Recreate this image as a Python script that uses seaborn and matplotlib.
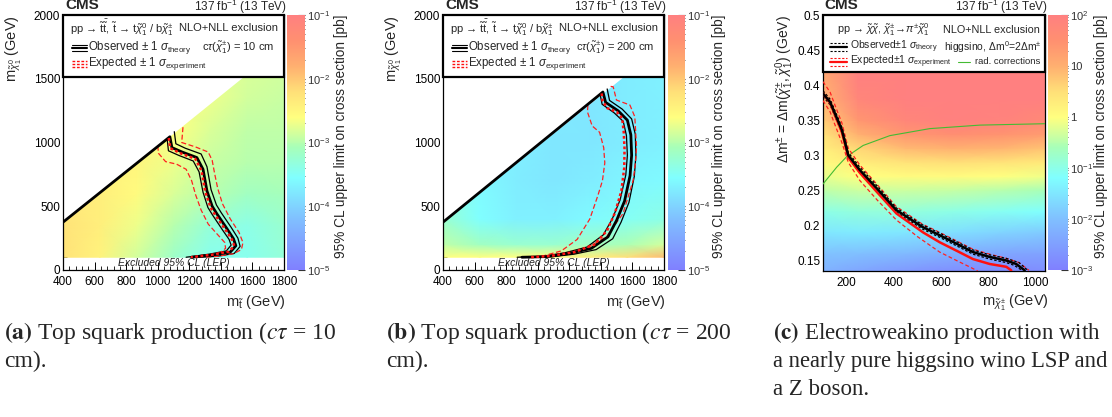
import numpy as np
import matplotlib
matplotlib.use("Agg")
import matplotlib.pyplot as plt
import seaborn as sns
from matplotlib.colors import LinearSegmentedColormap, LogNorm
from matplotlib.patches import Rectangle
from matplotlib.ticker import MultipleLocator, AutoMinorLocator, FuncFormatter


# Data: top squark, c tau = 10 cm

a_grid_x = [400, 633, 867, 1100, 1333, 1567, 1800]
a_grid_y = [100, 350, 600, 850, 1100, 1350, 1600]
a_log_xsec = [
    [-2.25, -2.45, -2.85, -3.20, -3.45, -3.45, -3.30],
    [-2.25, -2.40, -2.70, -3.00, -3.30, -3.40, -3.25],
    [-2.35, -2.40, -2.55, -2.80, -3.00, -3.15, -3.10],
    [-2.45, -2.45, -2.50, -2.70, -2.90, -3.00, -3.00],
    [-2.55, -2.50, -2.50, -2.60, -2.80, -2.95, -2.95],
    [-2.60, -2.55, -2.55, -2.55, -2.70, -2.85, -2.90],
    [-2.60, -2.60, -2.60, -2.60, -2.70, -2.80, -2.85],
]

a_obs_x = [400, 1077, 1090, 1155, 1248, 1287, 1312, 1345, 1375, 1438, 1480, 1495, 1460, 1350, 1215]
a_obs_y = [375, 1045, 960, 925, 882, 790, 620, 500, 440, 325, 245, 190, 141, 118, 100]
a_obs_up_x = [1105, 1115, 1175, 1275, 1312, 1338, 1372, 1402, 1465, 1508, 1522, 1485, 1380, 1260]
a_obs_up_y = [1085, 990, 955, 910, 810, 630, 510, 450, 335, 250, 185, 130, 108, 100]
a_obs_dn_x = [1060, 1068, 1135, 1225, 1262, 1287, 1318, 1348, 1410, 1452, 1465, 1435, 1330, 1180]
a_obs_dn_y = [1025, 935, 898, 855, 770, 610, 490, 430, 315, 240, 195, 150, 125, 100]
a_exp_x = [1070, 1080, 1145, 1238, 1277, 1302, 1335, 1365, 1428, 1470, 1485, 1452, 1345, 1210]
a_exp_y = [1035, 955, 915, 872, 780, 610, 490, 430, 318, 240, 190, 145, 120, 100]
a_exp_up_x = [1160, 1152, 1240, 1320, 1345, 1360, 1380, 1410, 1460, 1515, 1540, 1530, 1480, 1370, 1300]
a_exp_up_y = [1120, 1000, 965, 925, 860, 760, 640, 520, 400, 295, 215, 160, 128, 106, 100]
a_exp_dn_x = [1000, 1005, 1050, 1120, 1180, 1215, 1240, 1275, 1320, 1385, 1425, 1430, 1400, 1340, 1260]
a_exp_dn_y = [975, 915, 850, 830, 790, 700, 590, 470, 360, 270, 215, 170, 140, 118, 100]


# Data: top squark, c tau = 200 cm

b_grid_x = [400, 633, 867, 1100, 1333, 1567, 1800]
b_grid_y = [100, 200, 400, 700, 1000, 1300, 1600]
b_log_xsec = [
    [-2.60, -2.60, -2.60, -2.55, -2.40, -2.20, -1.90],
    [-2.95, -3.15, -3.25, -3.25, -3.15, -3.05, -2.85],
    [-3.25, -3.55, -3.70, -3.70, -3.60, -3.50, -3.40],
    [-3.40, -3.60, -3.75, -3.80, -3.75, -3.65, -3.60],
    [-3.50, -3.60, -3.70, -3.80, -3.80, -3.75, -3.70],
    [-3.50, -3.60, -3.70, -3.75, -3.80, -3.75, -3.70],
    [-3.50, -3.60, -3.70, -3.75, -3.80, -3.75, -3.70],
]

b_obs_x = [400, 1413, 1430, 1510, 1568, 1590, 1595, 1585, 1550, 1500, 1445, 1340, 1200, 1060, 900]
b_obs_y = [375, 1396, 1315, 1248, 1175, 1060, 900, 740, 540, 390, 260, 170, 130, 105, 100]
b_obs_up_x = [1440, 1455, 1535, 1595, 1618, 1622, 1612, 1578, 1528, 1475, 1370, 1230, 1090, 950]
b_obs_up_y = [1420, 1330, 1262, 1185, 1065, 900, 735, 530, 375, 245, 160, 124, 104, 100]
b_obs_dn_x = [1395, 1408, 1485, 1542, 1562, 1568, 1558, 1522, 1472, 1415, 1312, 1175, 1035, 870]
b_obs_dn_y = [1378, 1300, 1232, 1165, 1055, 900, 745, 550, 400, 275, 180, 136, 108, 100]
b_exp_x = [1405, 1410, 1440, 1500, 1535, 1545, 1550, 1548, 1530, 1490, 1440, 1360, 1230, 1080, 950]
b_exp_y = [1385, 1330, 1270, 1240, 1190, 1080, 950, 800, 620, 450, 310, 200, 140, 110, 100]
b_exp_up_x = [1462, 1478, 1499, 1584, 1615, 1626, 1620, 1605, 1541, 1436, 1288, 1141, 1000]
b_exp_up_y = [1440, 1437, 1333, 1294, 1202, 967, 850, 706, 444, 261, 157, 118, 100]
b_exp_dn_x = [1318, 1315, 1345, 1392, 1418, 1425, 1410, 1380, 1330, 1250, 1150, 1040, 960]
b_exp_dn_y = [1293, 1240, 1130, 1080, 960, 840, 700, 580, 400, 240, 150, 112, 100]

diag_x = [400, 1800]
diag_y = [375, 1775]


# Data: electroweakino, higgsino

c_grid_x = [100, 250, 450, 650, 850, 1040]
c_grid_y = [0.135, 0.16, 0.19, 0.22, 0.25, 0.27, 0.29, 0.31, 0.33, 0.35, 0.38, 0.42]
c_log_xsec = [
    [-2.20, -2.40, -2.60, -2.75, -2.80, -2.80],
    [-1.95, -2.00, -2.10, -2.25, -2.40, -2.45],
    [-1.50, -1.45, -1.50, -1.60, -1.75, -1.85],
    [-1.00, -0.90, -0.90, -1.00, -1.10, -1.20],
    [-0.45, -0.35, -0.35, -0.40, -0.50, -0.60],
    [-0.15, 0.00, 0.05, 0.05, 0.00, -0.10],
    [0.05, 0.30, 0.45, 0.50, 0.45, 0.35],
    [0.25, 0.60, 0.90, 1.00, 0.95, 0.80],
    [0.45, 1.00, 1.40, 1.55, 1.45, 1.30],
    [0.70, 1.40, 1.80, 1.95, 1.90, 1.70],
    [0.95, 1.80, 2.00, 2.00, 2.00, 2.00],
    [1.15, 2.00, 2.00, 2.00, 2.00, 2.00],
]

c_obs_x = [100, 130, 150, 180, 207, 256, 330, 410, 520, 594, 665, 735, 806, 876, 918, 954]
c_obs_y = [0.388, 0.376, 0.360, 0.336, 0.300, 0.279, 0.252, 0.222, 0.198, 0.186, 0.174, 0.162, 0.155, 0.150, 0.145, 0.136]
c_obs_up_x = [100, 130, 150, 180, 207, 256, 330, 410, 520, 594, 665, 735, 806, 876, 930, 967]
c_obs_up_y = [0.392, 0.380, 0.364, 0.340, 0.304, 0.283, 0.256, 0.225, 0.201, 0.189, 0.177, 0.165, 0.158, 0.153, 0.147, 0.136]
c_obs_dn_x = [100, 130, 150, 180, 207, 256, 330, 410, 520, 594, 665, 735, 806, 876, 910, 942]
c_obs_dn_y = [0.384, 0.372, 0.356, 0.332, 0.296, 0.275, 0.248, 0.219, 0.195, 0.183, 0.171, 0.159, 0.152, 0.147, 0.143, 0.136]
c_exp_x = [100, 130, 150, 180, 207, 256, 330, 411, 524, 594, 665, 735, 806, 876, 897]
c_exp_y = [0.388, 0.375, 0.358, 0.333, 0.297, 0.275, 0.247, 0.217, 0.190, 0.176, 0.164, 0.152, 0.145, 0.141, 0.136]
c_exp_up_x = [100, 130, 150, 180, 207, 256, 330, 410, 520, 594, 665, 735, 806, 876, 930, 972]
c_exp_up_y = [0.405, 0.390, 0.372, 0.346, 0.310, 0.286, 0.258, 0.227, 0.202, 0.190, 0.178, 0.166, 0.159, 0.153, 0.147, 0.136]
c_exp_dn_x = [100, 130, 150, 180, 207, 256, 330, 410, 500, 594, 665, 720, 755]
c_exp_dn_y = [0.378, 0.362, 0.344, 0.318, 0.290, 0.264, 0.236, 0.208, 0.184, 0.162, 0.150, 0.141, 0.135]
c_rad_x = [100, 158, 200, 270, 383, 552, 764, 1040]
c_rad_y = [0.259, 0.283, 0.298, 0.314, 0.328, 0.338, 0.343, 0.345]


# Style

sns.set_style("ticks")
plt.rcParams["font.family"] = ["Liberation Sans", "DejaVu Sans"]
plt.rcParams["mathtext.fontset"] = "custom"
plt.rcParams["mathtext.rm"] = "Liberation Sans"
plt.rcParams["mathtext.it"] = "Liberation Sans:italic"
plt.rcParams["mathtext.bf"] = "Liberation Sans:bold"

cmap = LinearSegmentedColormap.from_list("pastel_rainbow", [
    (0.00, "#8080ff"), (0.20, "#80c0ff"), (0.36, "#80ffff"), (0.48, "#a8ffb8"),
    (0.60, "#ffff80"), (0.70, "#ffe078"), (0.80, "#ffb070"), (0.90, "#ff9070"),
    (1.00, "#ff8080"),
])

W, H = 1112, 417
fig = plt.figure(figsize=(W / 100, H / 100), dpi=100)


def fx(px):
    return px / W


def fy(py):
    return 1 - py / H


def box(left, right, top, bottom):
    return [fx(left), fy(bottom), fx(right - left), (bottom - top) / H]


def line(ax, x, y, color, lw, dashes=None):
    sns.lineplot(x=x, y=y, sort=False, estimator=None, color=color,
                 linewidth=lw, ax=ax, zorder=5)
    if dashes is not None:
        ax.lines[-1].set_dashes(dashes)


def style_axes(ax):
    for s in ax.spines.values():
        s.set_color("black")
        s.set_linewidth(0.9)
        s.set_visible(True)
    ax.tick_params(which="both", direction="in", labelsize=8.5, colors="black")
    ax.tick_params(which="major", length=6, width=0.7)
    ax.tick_params(which="minor", length=3, width=0.6)
    ax.tick_params(axis="x", pad=4)
    ax.tick_params(axis="y", pad=2)
    ax.set_xlabel("")
    ax.set_ylabel("")


def colorbar(mesh, left, right, label_x):
    cax = fig.add_axes(box(left, right, 15, 270))
    cb = fig.colorbar(mesh, cax=cax)
    cb.outline.set_visible(False)
    cax.tick_params(which="both", direction="in", right=True, left=False,
                    labelsize=8, colors="#333333", pad=1.5)
    cax.tick_params(which="major", length=5)
    cax.tick_params(which="minor", length=2.5)
    fig.text(fx(label_x), fy(15), "95% CL upper limit on cross section [pb]",
             rotation=90, ha="center", va="top", fontsize=9.8)
    return cb


def header(left, right):
    fig.text(fx(left + 2), fy(9), "CMS", fontsize=11, fontweight="bold", va="baseline")
    fig.text(fx(right), fy(11), r"137 fb$^{-1}$ (13 TeV)", fontsize=8.5,
             ha="right", va="baseline")


def squark_panel(left, right, grid_x, grid_y, grid, obs, obs_up, obs_dn, exp, exp_up, exp_dn, ctau):
    ax = fig.add_axes(box(left, right, 15, 270))
    gx, gy = np.meshgrid(grid_x, grid_y)
    mesh = ax.pcolormesh(gx, gy, 10 ** np.array(grid), shading="gouraud", cmap=cmap,
                         norm=LogNorm(1e-5, 1e-1), zorder=1)
    ax.fill_between(diag_x, diag_y, 2000, color="white", zorder=2, lw=0)
    line(ax, *obs_up, "black", 0.9)
    line(ax, *obs_dn, "black", 0.9)
    line(ax, *exp_up, "#ff2020", 0.9, (4, 2))
    line(ax, *exp_dn, "#ff2020", 0.9, (4, 2))
    line(ax, *obs, "black", 2.0)
    line(ax, *exp, "#ff1010", 1.8, (1.1, 1.0))
    ax.set_xlim(400, 1800)
    ax.set_ylim(0, 2000)
    ax.xaxis.set_major_locator(MultipleLocator(200))
    ax.xaxis.set_minor_locator(AutoMinorLocator(5))
    ax.yaxis.set_major_locator(MultipleLocator(500))
    ax.yaxis.set_minor_locator(AutoMinorLocator(5))
    style_axes(ax)
    ax.text(1100, 55, "Excluded 95% CL (LEP)", fontsize=7.5, style="italic",
            ha="center", va="center", color="#222222", zorder=6)

    # legend box
    w = right - left
    bt = 1 - (77 - 15) / 255
    ax.add_patch(Rectangle((0, bt), 1, 1 - bt, transform=ax.transAxes, facecolor="white",
                           edgecolor="black", lw=1.6, zorder=8, clip_on=False))
    r1, r2, r3 = [1 - (p - 15) / 255 for p in (28, 48, 64)]
    ax.text(7 / w, r1, r"pp → $\tilde{\mathrm{t}}\bar{\tilde{\mathrm{t}}}$, $\tilde{\mathrm{t}}$ → "
            r"$\mathrm{t}\tilde{\chi}^{0}_{1}$ / $\mathrm{b}\tilde{\chi}^{\pm}_{1}$",
            transform=ax.transAxes, fontsize=8, va="center", zorder=9)
    ax.text(0.975, r1, "NLO+NLL exclusion", transform=ax.transAxes, fontsize=8,
            ha="right", va="center", zorder=9)
    ax.text(25 / w, r2, r"Observed $\pm$ 1 $\sigma_{\mathrm{theory}}$",
            transform=ax.transAxes, fontsize=8.3, va="center", zorder=9)
    ax.text(0.955, r2, r"c$\tau$($\tilde{\chi}^{\pm}_{1}$) = " + ctau,
            transform=ax.transAxes, fontsize=8, ha="right", va="center", zorder=9)
    ax.text(25 / w, r3, r"Expected $\pm$ 1 $\sigma_{\mathrm{experiment}}$",
            transform=ax.transAxes, fontsize=8.3, va="center", zorder=9)
    x0, x1 = 9 / w, 24 / w
    dy = 3 / 255
    for off, lw in ((dy, 0.8), (0, 1.5), (-dy, 0.8)):
        ax.plot([x0, x1], [r2 + off, r2 + off], color="black", lw=lw,
                transform=ax.transAxes, zorder=9, clip_on=False)
        ax.plot([x0, x1], [r3 + off, r3 + off], color="#ff1010", lw=1.0,
                dashes=(2, 1.2), transform=ax.transAxes, zorder=9, clip_on=False)

    header(left, right + 3)
    fig.text(fx(right + 2), fy(306), r"$\mathrm{m}_{\tilde{\mathrm{t}}}$ (GeV)",
             ha="right", va="baseline", fontsize=10.5)
    fig.text(fx(left - 49), fy(15), r"$\mathrm{m}_{\tilde{\chi}^{0}_{1}}$ (GeV)",
             rotation=90, ha="center", va="top", fontsize=10.5)
    return ax, mesh


# Panel (a)

ax_a, mesh_a = squark_panel(63, 284, a_grid_x, a_grid_y, a_log_xsec,
                            (a_obs_x, a_obs_y), (a_obs_up_x, a_obs_up_y), (a_obs_dn_x, a_obs_dn_y),
                            (a_exp_x, a_exp_y), (a_exp_up_x, a_exp_up_y), (a_exp_dn_x, a_exp_dn_y),
                            "10 cm")
colorbar(mesh_a, 287, 305, 341)


# Panel (b)

ax_b, mesh_b = squark_panel(443, 664, b_grid_x, b_grid_y, b_log_xsec,
                            (b_obs_x, b_obs_y), (b_obs_up_x, b_obs_up_y), (b_obs_dn_x, b_obs_dn_y),
                            (b_exp_x, b_exp_y), (b_exp_up_x, b_exp_up_y), (b_exp_dn_x, b_exp_dn_y),
                            "200 cm")
colorbar(mesh_b, 668, 685, 719)


# Panel (c)

ax_c = fig.add_axes(box(823, 1045, 15, 271))
gx, gy = np.meshgrid(c_grid_x, c_grid_y)
mesh_c = ax_c.pcolormesh(gx, gy, 10 ** np.array(c_log_xsec), shading="gouraud", cmap=cmap,
                         norm=LogNorm(1e-3, 1e2), zorder=1)
line(ax_c, c_rad_x, c_rad_y, "#44bb33", 0.8)
line(ax_c, c_exp_up_x, c_exp_up_y, "#ff2020", 0.9, (3, 2))
line(ax_c, c_exp_dn_x, c_exp_dn_y, "#ff2020", 0.9, (3, 2))
line(ax_c, c_obs_up_x, c_obs_up_y, "black", 0.9, (2, 1.5))
line(ax_c, c_obs_dn_x, c_obs_dn_y, "black", 0.9, (2, 1.5))
line(ax_c, c_exp_x, c_exp_y, "#ff1010", 1.8)
line(ax_c, c_obs_x, c_obs_y, "black", 1.8)
ax_c.set_xlim(100, 1040)
ax_c.set_ylim(0.135, 0.5)
ax_c.xaxis.set_major_locator(MultipleLocator(200))
ax_c.xaxis.set_minor_locator(AutoMinorLocator(4))
ax_c.yaxis.set_major_locator(MultipleLocator(0.05))
ax_c.yaxis.set_minor_locator(AutoMinorLocator(5))
ax_c.yaxis.set_major_formatter(FuncFormatter(lambda v, p: f"{v:g}"))
style_axes(ax_c)
ax_c.tick_params(which="both", right=True)

wc = 222
bt = 1 - (72 - 15) / 256
ax_c.add_patch(Rectangle((0, bt), 1, 1 - bt, transform=ax_c.transAxes, facecolor="white",
                         edgecolor="black", lw=1.6, zorder=8, clip_on=False))
r1, r2, r3 = [1 - (p - 15) / 256 for p in (30, 47, 62)]
ax_c.text(14 / wc, r1, r"pp → $\tilde{\chi}\tilde{\chi}$, "
          r"$\tilde{\chi}^{\pm}_{1}$→$\pi^{\pm}\tilde{\chi}^{0}_{1}$",
          transform=ax_c.transAxes, fontsize=7.8, va="center", zorder=9)
ax_c.text(0.977, r1, "NLO+NLL exclusion", transform=ax_c.transAxes, fontsize=7.8,
          ha="right", va="center", zorder=9)
ax_c.text(27 / wc, r2, r"Observed$\pm$1 $\sigma_{\mathrm{theory}}$",
          transform=ax_c.transAxes, fontsize=7.5, va="center", zorder=9)
ax_c.text(0.985, r2, r"higgsino, $\Delta\mathrm{m}^{0}$=2$\Delta\mathrm{m}^{\pm}$",
          transform=ax_c.transAxes, fontsize=7.5, ha="right", va="center", zorder=9)
ax_c.text(27 / wc, r3, r"Expected$\pm$1 $\sigma_{\mathrm{experiment}}$",
          transform=ax_c.transAxes, fontsize=7.5, va="center", zorder=9)
ax_c.text(0.977, r3, "rad. corrections", transform=ax_c.transAxes, fontsize=6.8,
          ha="right", va="center", zorder=9)
x0, x1 = 7 / wc, 24 / wc
dy = 4 / 256
for color, mid in (("black", r2), ("#ff1010", r3)):
    ax_c.plot([x0, x1], [mid, mid], color=color, lw=1.6, transform=ax_c.transAxes,
              zorder=9, clip_on=False)
    for off in (dy, -dy):
        ax_c.plot([x0, x1], [mid + off, mid + off], color=color, lw=0.8, dashes=(2, 1.5),
                  transform=ax_c.transAxes, zorder=9, clip_on=False)
ax_c.plot([135 / wc, 147 / wc], [r3, r3], color="#44bb33", lw=0.8,
          transform=ax_c.transAxes, zorder=9)

cb_c = colorbar(mesh_c, 1048, 1068, 1101)
cb_c.set_ticks([1e-3, 1e-2, 1e-1, 1, 10, 100],
               labels=[r"$10^{-3}$", r"$10^{-2}$", r"$10^{-1}$", "1", "10", r"$10^{2}$"])

header(822, 1048)
fig.text(fx(1049), fy(306), r"$\mathrm{m}_{\tilde{\chi}^{\pm}_{1}}$ (GeV)",
         ha="right", va="baseline", fontsize=10.5)
fig.text(fx(785), fy(15), r"$\Delta\mathrm{m}^{\pm}$ = $\Delta\mathrm{m}(\tilde{\chi}^{\pm}_{1},\tilde{\chi}^{0}_{1})$ (GeV)",
         rotation=90, ha="center", va="top", fontsize=10)


# Captions

cap = dict(family="Liberation Serif", math_fontfamily="stix", va="baseline")
fig.text(fx(4), fy(339), r"$\mathbf{(a)}$ Top squark production ($c\tau$ = 10", fontsize=17, **cap)
fig.text(fx(4), fy(367), "cm).", fontsize=17, **cap)
fig.text(fx(386), fy(339), r"$\mathbf{(b)}$ Top squark production ($c\tau$ = 200", fontsize=17, **cap)
fig.text(fx(386), fy(367), "cm).", fontsize=17, **cap)
fig.text(fx(773), fy(339), r"$\mathbf{(c)}$ Electroweakino production with", fontsize=16.5, **cap)
fig.text(fx(773), fy(367), "a nearly pure higgsino wino LSP and", fontsize=16.3, **cap)
fig.text(fx(773), fy(395), "a Z boson.", fontsize=16.5, **cap)

plt.savefig("out.png", dpi=100)
